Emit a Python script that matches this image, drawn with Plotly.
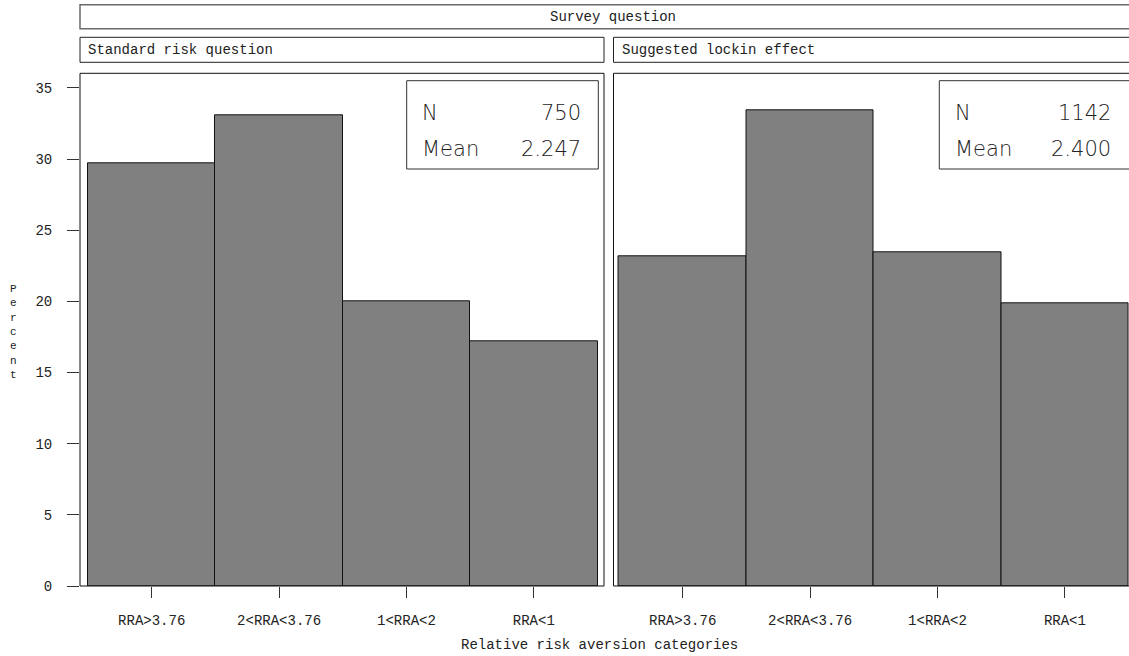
import plotly.graph_objects as go

# Relative risk aversion categories and the percentage of respondents in each
categories = ["RRA>3.76", "2<RRA<3.76", "1<RRA<2", "RRA<1"]
pct_standard = [29.73, 33.07, 20.00, 17.20]
pct_lockin = [23.20, 33.45, 23.47, 19.88]

panel_titles = ["Standard risk question", "Suggested lockin effect"]
panel_n = ["750", "1142"]
panel_mean = ["2.247", "2.400"]
y_ticks = [0, 5, 10, 15, 20, 25, 30, 35]

W, H = 1129, 656
MONO = "Liberation Mono, Courier New, monospace"
SANS = "DejaVu Sans, Liberation Sans, sans-serif"
TXT = "#222222"


def px(x):
    return x / W


def py(y):
    return 1 - y / H


fig = go.Figure()

bar_style = dict(marker=dict(color="#808080", line=dict(color="#111111", width=1)),
                 width=1, showlegend=False, hoverinfo="x+y")
fig.add_trace(go.Bar(x=categories, y=pct_standard, xaxis="x", yaxis="y", **bar_style))
fig.add_trace(go.Bar(x=categories, y=pct_lockin, xaxis="x2", yaxis="y", **bar_style))

plot_top, plot_bottom = 73.3, 586.0
left_box = (80, 604)
right_box = (613.5, 1145)

xaxis_common = dict(
    type="category", showgrid=False, zeroline=False, showline=False,
    ticks="outside", ticklen=11, tickwidth=1, tickcolor="#333333",
    tickfont=dict(family=MONO, size=14, color=TXT), ticklabelstandoff=10,
    anchor="y", fixedrange=True, automargin=False,
)

fig.update_layout(
    width=W, height=H,
    margin=dict(l=0, r=0, t=0, b=0, pad=0, autoexpand=False),
    paper_bgcolor="white", plot_bgcolor="white",
    bargap=0,
    xaxis=dict(domain=[px(left_box[0]), px(left_box[1])], range=[-0.563, 3.551], **xaxis_common),
    xaxis2=dict(domain=[px(right_box[0]), 1.0], range=[-0.543, 3.503], **xaxis_common),
    yaxis=dict(
        domain=[py(plot_bottom), py(plot_top)], range=[0, 36.03],
        tickvals=y_ticks, ticks="outside", ticklen=12, tickwidth=1, tickcolor="#333333",
        tickfont=dict(family=MONO, size=14, color=TXT), ticklabelstandoff=12,
        showgrid=False, zeroline=False, showline=False, anchor="x", fixedrange=True,
        automargin=False,
    ),
)

shapes = []
annotations = []

# Overall header strip
shapes.append(dict(type="rect", xref="paper", yref="paper",
                   x0=px(80), x1=px(1146), y0=py(28.7), y1=py(4.7),
                   line=dict(color="#6a6a6a", width=1.5), fillcolor="white", layer="below"))
annotations.append(dict(text="Survey question", xref="paper", yref="paper",
                        x=px(613), y=py(16.7), xanchor="center", yanchor="middle",
                        showarrow=False, font=dict(family=MONO, size=14, color=TXT)))

for i, (x0, x1) in enumerate([left_box, right_box]):
    # panel header strip
    shapes.append(dict(type="rect", xref="paper", yref="paper",
                       x0=px(x0), x1=px(x1), y0=py(62.3), y1=py(37.3),
                       line=dict(color="#222222", width=1), fillcolor="white", layer="below"))
    annotations.append(dict(text=panel_titles[i], xref="paper", yref="paper",
                            x=px(x0 + 6), y=py(49.8), xanchor="left", yanchor="middle",
                            showarrow=False, font=dict(family=MONO, size=14, color=TXT)))
    # plot region outline
    shapes.append(dict(type="rect", xref="paper", yref="paper",
                       x0=px(x0), x1=px(x1), y0=py(plot_bottom), y1=py(plot_top),
                       line=dict(color="#111111", width=1), layer="above"))

# Summary statistic boxes
stat_boxes = [(406.7, 598.3, 420, 583), (939.3, 1131, 953, 1113)]
for i, (bx0, bx1, tx_l, tx_r) in enumerate(stat_boxes):
    shapes.append(dict(type="rect", xref="paper", yref="paper",
                       x0=px(bx0), x1=px(bx1), y0=py(169), y1=py(80.7),
                       line=dict(color="#333333", width=1), fillcolor="white", layer="above"))
    for label, value, yc in [("N", panel_n[i], 113), ("Mean", panel_mean[i], 149)]:
        annotations.append(dict(text=label, xref="paper", yref="paper",
                                x=px(tx_l), y=py(yc), xanchor="left", yanchor="middle",
                                showarrow=False,
                                font=dict(family=SANS, size=21, color="#222222", weight=200)))
        annotations.append(dict(text=value, xref="paper", yref="paper",
                                x=px(tx_r), y=py(yc), xanchor="right", yanchor="middle",
                                showarrow=False,
                                font=dict(family=SANS, size=21, color="#222222", weight=200)))

# Axis titles
annotations.append(dict(text="<br>".join("Percent"), xref="paper", yref="paper",
                        x=px(13), y=py(332), xanchor="center", yanchor="middle",
                        showarrow=False, align="center",
                        font=dict(family=MONO, size=11, color=TXT)))
annotations.append(dict(text="Relative risk aversion categories", xref="paper", yref="paper",
                        x=px(599), y=py(645), xanchor="center", yanchor="middle",
                        showarrow=False, font=dict(family=MONO, size=14, color=TXT)))

fig.update_layout(shapes=shapes, annotations=annotations)

fig.write_html("out.html")
